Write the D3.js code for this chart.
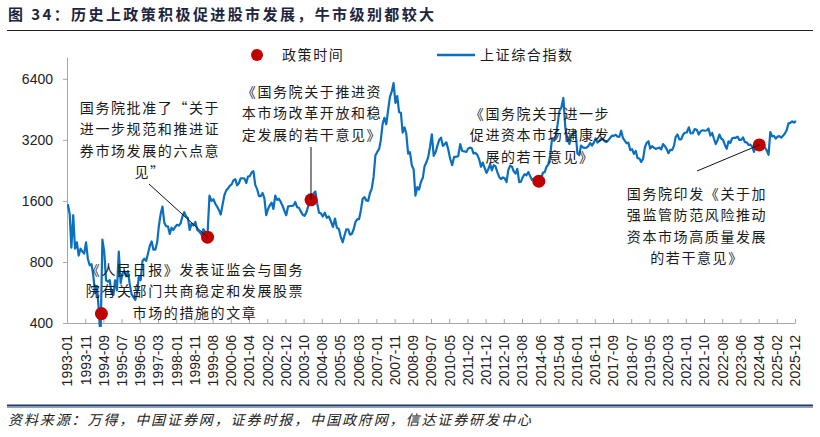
<!DOCTYPE html>
<html>
<head>
<meta charset="utf-8">
<script src="https://cdn.jsdelivr.net/npm/d3@7"></script>
<style>
  body { margin: 0; background: #fff; }
  svg { display: block; font-family: "Noto Sans CJK SC", sans-serif; }
  .axis path, .axis line { stroke: #a6a6a6; }
  .axis text { font-family: "Liberation Sans", Arial, sans-serif; font-size: 14px; fill: #222; }
  .note { font-size: 14px; fill: #1a1a1a; letter-spacing: 1.6px; }
</style>
</head>
<body>
<svg id="chart" width="820" height="437"></svg>
<script>
/*********************/
/*** INIT VARIABLE ***/
/*********************/

let svg = d3.select("#chart");

let margin = {top: 57, right: 25, bottom: 114, left: 67},
    width  = 820 - margin.left - margin.right,
    height = 437 - margin.top - margin.bottom;

// x axis category labels (trading-day spaced in the original)
let tick_labels = ["1993-01","1993-11","1994-09","1995-07","1996-05","1997-03","1998-01","1998-11",
    "1999-08","2000-06","2001-04","2002-02","2002-12","2003-10","2004-08","2005-05","2006-03",
    "2007-01","2007-11","2008-09","2009-07","2010-05","2011-02","2011-12","2012-10","2013-08",
    "2014-06","2015-04","2016-01","2016-11","2017-09","2018-07","2019-05","2020-03","2021-01",
    "2021-10","2022-08","2023-06","2024-04","2025-02","2025-12"];

let y_ticks = [400, 800, 1600, 3200, 6400];

// 上证综合指数, one value per month starting 1993-01
let start_year = 1993;
let sse_close = [
    1540, 1380, 940, 1360, 930, 1000, 860, 930, 900, 880, 1000, 830,       // 1993
    770, 780, 690, 560, 610, 470, 333, 1030, 900, 650, 640, 650,          // 1994
    560, 550, 650, 580, 900, 630, 700, 720, 680, 720, 620, 555,           // 1995
    537, 520, 560, 680, 650, 810, 830, 810, 880, 960, 1010, 920,          // 1996
    920, 1000, 1200, 1380, 1500, 1250, 1200, 1200, 1100, 1180, 1150, 1190, // 1997
    1220, 1210, 1240, 1340, 1410, 1340, 1320, 1150, 1240, 1210, 1260, 1150, // 1998
    1130, 1090, 1160, 1120, 1060, 1700, 1600, 1630, 1550, 1500, 1440, 1370, // 1999
    1530, 1710, 1800, 1840, 1900, 1930, 2020, 2050, 1910, 1960, 2070, 2070, // 2000
    2060, 1960, 2110, 2120, 2210, 2240, 1920, 1830, 1690, 1690, 1750, 1650, // 2001
    1360, 1460, 1520, 1570, 1460, 1700, 1620, 1640, 1580, 1510, 1430, 1360, // 2002
    1500, 1510, 1510, 1520, 1580, 1490, 1480, 1420, 1370, 1350, 1400, 1500, // 2003
    1590, 1620, 1740, 1780, 1560, 1400, 1390, 1340, 1400, 1320, 1340, 1270, // 2004
    1190, 1310, 1180, 1160, 1060, 1000, 1080, 1160, 1160, 1090, 1100, 1160, // 2005
    1260, 1300, 1300, 1440, 1640, 1670, 1610, 1600, 1750, 1840, 2100, 2680, // 2006
    2790, 2880, 3180, 3840, 4110, 3820, 4470, 5220, 5550, 6100, 4870, 5260, // 2007
    4380, 4350, 3470, 3690, 3430, 2740, 2780, 2400, 2290, 1700, 1870, 1820, // 2008
    1990, 2080, 2370, 2480, 2630, 2960, 3410, 2670, 2780, 2990, 3200, 3280, // 2009
    2990, 3050, 3110, 2870, 2590, 2400, 2640, 2640, 2660, 3050, 2820, 2810, // 2010
    2790, 2900, 2930, 2910, 2740, 2760, 2700, 2570, 2360, 2470, 2330, 2200, // 2011
    2290, 2430, 2260, 2400, 2370, 2220, 2100, 2050, 2090, 2070, 1980, 2270, // 2012
    2390, 2360, 2240, 2180, 2300, 1980, 1990, 2100, 2170, 2140, 2220, 2120, // 2013
    2030, 2060, 2030, 2030, 2010, 2050, 2200, 2220, 2360, 2420, 2680, 3230, // 2014
    3210, 3310, 3750, 4440, 4610, 5150, 3660, 3210, 3050, 3380, 3450, 3540, // 2015
    2740, 2690, 3000, 2940, 2920, 2930, 2980, 3090, 3000, 3100, 3250, 3100, // 2016
    3160, 3240, 3220, 3150, 3120, 3190, 3270, 3360, 3350, 3390, 3320, 3310, // 2017
    3550, 3260, 3170, 3080, 3100, 2850, 2880, 2730, 2820, 2600, 2590, 2490, // 2018
    2580, 2940, 3090, 3150, 2900, 2980, 2930, 2890, 2910, 2930, 2870, 3050, // 2019
    2980, 2880, 2750, 2860, 2850, 2980, 3310, 3400, 3220, 3220, 3390, 3470, // 2020
    3480, 3690, 3440, 3450, 3620, 3590, 3400, 3540, 3570, 3550, 3560, 3640, // 2021
    3360, 3460, 3250, 3050, 3190, 3400, 3250, 3200, 3020, 2890, 3150, 3090, // 2022
    3260, 3280, 3270, 3320, 3200, 3200, 3290, 3120, 3110, 3020, 3030, 2970, // 2023
    2790, 3020, 3040, 3100, 3090, 2970, 2940, 2840, 2700, 3500, 3330, 3350, // 2024
    3250, 3320, 3340, 3280, 3350, 3440, 3570, 3860, 3880, 3950, 3890, 3970  // 2025
];

// 政策时间
let policy_dates  = ["1994-07-30", "1999-05-17", "2004-02-02", "2014-05-09", "2024-04-12"];
let policy_values = [445, 1060, 1620, 2000, 3020];

let parse_month = d3.timeParse("%Y-%m"),
    parse_day   = d3.timeParse("%Y-%m-%d");

let data = sse_close.map((v, i) => ({date: new Date(start_year, i, 15), value: v}));
let policies = policy_dates.map((d, i) => ({date: parse_day(d), value: policy_values[i]}));

// scales: category labels evenly spaced, dates mapped piecewise between them
let x_cat = d3.scalePoint().domain(tick_labels).range([0, width]);
let x = d3.scaleTime()
    .domain(tick_labels.map(parse_month))
    .range(tick_labels.map((l) => x_cat(l)));
let y = d3.scaleLog().base(2).domain([400, 8200]).range([height, 0]);

let blue = "#0a6fc0", red = "#c00000";

/********************************/
/*** DECLARE HELPER FUNCTIONS ***/
/********************************/

function render_frame() {
    svg.append("text")
        .attr("x", 8).attr("y", 20)
        .style("font-size", "15px").style("font-weight", 700)
        .style("fill", "#1c2540").style("letter-spacing", "2.4px")
        .text("图 34：历史上政策积极促进股市发展，牛市级别都较大");

    svg.append("line")
        .attr("x1", 7).attr("x2", 813).attr("y1", 30.5).attr("y2", 30.5)
        .attr("stroke", "#222").attr("stroke-width", 1);

    svg.append("line")
        .attr("x1", 7).attr("x2", 813).attr("y1", 405.5).attr("y2", 405.5)
        .attr("stroke", "#1f3864").attr("stroke-width", 2);
    svg.append("line")
        .attr("x1", 7).attr("x2", 813).attr("y1", 407.5).attr("y2", 407.5)
        .attr("stroke", "#8ea0c0").attr("stroke-width", 1);

    svg.append("text")
        .attr("x", 8).attr("y", 425)
        .style("font-size", "14px").style("font-style", "italic")
        .style("fill", "#222").style("letter-spacing", "1.9px")
        .text("资料来源：万得，中国证券网，证券时报，中国政府网，信达证券研发中心");
}

function render_axis(g) {
    g.append("g")
        .classed("axis", true)
        .attr("transform", `translate(0, ${height})`)
        .call(d3.axisBottom(x_cat).tickSizeInner(-4).tickSizeOuter(0))
        .selectAll("text")
        .attr("transform", "rotate(-90)")
        .attr("x", -12).attr("y", 0).attr("dy", "0.35em")
        .style("text-anchor", "end");

    g.append("g")
        .classed("axis", true)
        .call(d3.axisLeft(y).tickValues(y_ticks).tickFormat(d3.format("d"))
            .tickSizeInner(4).tickSizeOuter(0).tickPadding(10));
}

function render_legend() {
    let lg = svg.append("g").attr("transform", "translate(0, 55)");
    lg.append("circle").attr("cx", 257).attr("cy", 0).attr("r", 6).attr("fill", red);
    lg.append("text").classed("note", true).attr("x", 282).attr("dy", "0.35em").text("政策时间");
    lg.append("line").attr("x1", 437).attr("x2", 475).attr("stroke", blue).attr("stroke-width", 2.5);
    lg.append("text").classed("note", true).attr("x", 480).attr("dy", "0.35em").text("上证综合指数");
}

function render_series(g) {
    g.append("clipPath").attr("id", "plot-clip")
        .append("rect").attr("x", 0).attr("y", -10).attr("width", width + 10).attr("height", height + 14);

    g.append("path")
        .datum(data)
        .attr("clip-path", "url(#plot-clip)")
        .attr("fill", "none")
        .attr("stroke", blue)
        .attr("stroke-width", 2.2)
        .attr("stroke-linejoin", "round")
        .attr("d", d3.line().x((d) => x(d.date)).y((d) => y(d.value)));
}

function render_notes(g) {
    let notes = [
        {lines: ["国务院批准了“关于", "进一步规范和推进证", "券市场发展的六点意", "见”"], cx: 150, y0: 108},
        {lines: ["《国务院关于推进资", "本市场改革开放和稳", "定发展的若干意见》"], cx: 312, y0: 92},
        {lines: ["《国务院关于进一步", "促进资本市场健康发", "展的若干意见》"], cx: 540, y0: 114},
        {lines: ["国务院印发《关于加", "强监管防范风险推动", "资本市场高质量发展", "的若干意见》"], cx: 697, y0: 194},
        {lines: ["《人民日报》发表证监会与国务", "院有关部门共商稳定和发展股票", "市场的措施的文章"], cx: 195, y0: 270}
    ];

    // leader lines, from the text block to the policy dot
    let leaders = [
        {from: [149, 184], to: policies[1]},
        {from: [311, 147], to: policies[2]},
        {from: [697, 171], to: policies[4]}
    ];
    leaders.forEach((l) => {
        svg.append("line")
            .attr("x1", l.from[0]).attr("y1", l.from[1])
            .attr("x2", margin.left + x(l.to.date)).attr("y2", margin.top + y(l.to.value))
            .attr("stroke", "#111").attr("stroke-width", 1);
    });

    g.selectAll("circle.policy")
        .data(policies).enter()
        .append("circle")
        .classed("policy", true)
        .attr("cx", (d) => x(d.date))
        .attr("cy", (d) => y(d.value))
        .attr("r", 6.5)
        .attr("fill", red);

    notes.forEach((n) => {
        n.lines.forEach((t, i) => {
            svg.append("text")
                .classed("note", true)
                .attr("x", n.cx).attr("y", n.y0 + i * 21.5)
                .attr("dy", "0.35em")
                .style("text-anchor", "middle")
                .text(t);
        });
    });
}

/*********************************/
/*** DRAW ***/
/*********************************/

render_frame();
let plot = svg.append("g").attr("transform", `translate(${margin.left}, ${margin.top})`);
render_axis(plot);
render_series(plot);
render_legend();
render_notes(plot);
</script>
</body>
</html>
